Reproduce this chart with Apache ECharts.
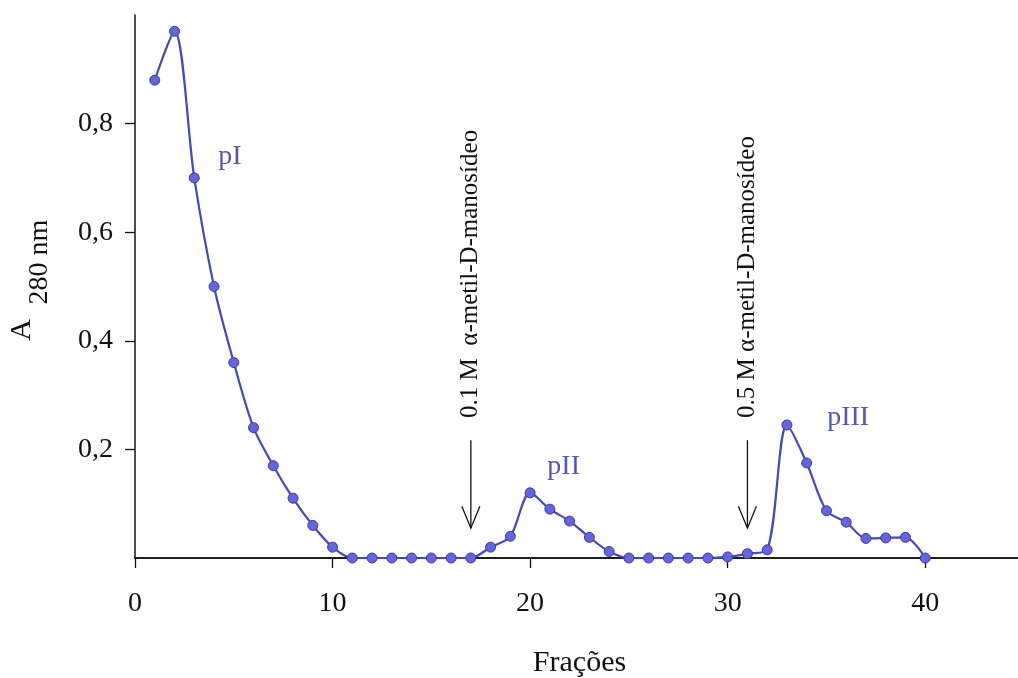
<!DOCTYPE html>
<html>
<head>
<meta charset="utf-8">
<title>Frações – A 280 nm</title>
<script src="https://cdn.jsdelivr.net/npm/echarts@6/dist/echarts.min.js"></script>
<style>
  html, body { margin: 0; padding: 0; background: #fff; }
  #chart { width: 1018px; height: 678px; }
</style>
</head>
<body>
<div id="chart"></div>
<script>
// Elution profile: absorbance at 280 nm for each collected fraction
const fractions = [1, 2, 3, 4, 5, 6, 7, 8, 9, 10,
                   11, 12, 13, 14, 15, 16, 17, 18, 19, 20,
                   21, 22, 23, 24, 25, 26, 27, 28, 29, 30,
                   31, 32, 33, 34, 35, 36, 37, 38, 39, 40];
const absorbance = [0.88, 0.97, 0.70, 0.50, 0.36, 0.24, 0.17, 0.11, 0.06, 0.02,
                    0, 0, 0, 0, 0, 0, 0, 0.02, 0.04, 0.12,
                    0.09, 0.068, 0.038, 0.012, 0, 0, 0, 0, 0, 0.002,
                    0.008, 0.015, 0.245, 0.175, 0.087, 0.066, 0.036, 0.037, 0.038, 0];

// Fractions at which the eluent was changed, and the eluent used
const elutionFractions = [17, 31];
const elutionLabels = ['0.1 M  \u03b1-metil-D-manos\u00eddeo', '0.5 M \u03b1-metil-D-manos\u00eddeo'];

// Peak names
const peakNames = ['pI', 'pII', 'pIII'];

// Axis ticks
const xTicks = [0, 10, 20, 30, 40];
const yTicks = [0.2, 0.4, 0.6, 0.8];

const serif = '"Liberation Serif", "Times New Roman", serif';
const lineColor = '#4646c4';
const labelColor = '#5656b4';

const chart = echarts.init(document.getElementById('chart'), null, { renderer: 'canvas' });

const option = {
  backgroundColor: '#ffffff',
  animation: false,
  grid: { left: 135, top: 15, width: 889, height: 543, containLabel: false, outerBoundsMode: 'none' },
  xAxis: [{
    type: 'value',
    min: 0, max: 45, interval: 10,
    name: 'Frações',
    nameLocation: 'middle',
    nameGap: 90,
    nameTextStyle: { fontFamily: serif, fontSize: 30, color: '#111' },
    axisLine: { show: true, onZero: false, lineStyle: { color: '#111', width: 1.5 } },
    axisTick: { show: true, inside: false, length: 10, lineStyle: { color: '#111', width: 1.3 } },
    axisLabel: {
      fontFamily: serif, fontSize: 28, color: '#111', margin: 32,
      showMaxLabel: false,
      formatter: v => (xTicks.indexOf(v) >= 0 ? String(v) : '')
    },
    splitLine: { show: false }
  }, {
    type: 'value',
    position: 'top',
    min: 0, max: 45,
    axisLine: { show: true, lineStyle: { color: '#111', width: 1.5 } },
    axisTick: { show: false },
    axisLabel: { show: false },
    splitLine: { show: false }
  }],
  yAxis: {
    type: 'value',
    min: 0, max: 1.0, interval: 0.2,
    axisLine: { show: true, onZero: false, lineStyle: { color: '#111', width: 1.5 } },
    axisTick: { show: true, inside: false, length: 10, lineStyle: { color: '#111', width: 1.3 } },
    axisLabel: {
      fontFamily: serif, fontSize: 28, color: '#111', margin: 22,
      showMinLabel: false, showMaxLabel: false,
      formatter: v => {
        const t = yTicks.find(k => Math.abs(k - v) < 1e-9);
        return t === undefined ? '' : t.toFixed(1).replace('.', ',');
      }
    },
    splitLine: { show: false }
  },
  graphic: [
    {
      type: 'text', x: 22, y: 330, rotation: Math.PI / 2,
      style: { text: 'A', fontFamily: serif, fontSize: 30, fill: '#111', align: 'center', verticalAlign: 'middle' }
    },
    {
      type: 'text', x: 40, y: 262, rotation: Math.PI / 2,
      style: { text: '280 nm', fontFamily: serif, fontSize: 28, fill: '#111', align: 'center', verticalAlign: 'middle' }
    }
  ],
  series: [
    {
      type: 'line',
      data: fractions.map((f, i) => [f, absorbance[i]]),
      smooth: 0.3,
      symbol: 'circle',
      symbolSize: 10,
      lineStyle: { color: lineColor, width: 2.2 },
      itemStyle: { color: '#6464dc', borderColor: '#3a3aa6', borderWidth: 1 },
      z: 3
    },
    {
      // eluent change arrows with vertical captions
      type: 'custom',
      data: elutionFractions.map(f => [f, 0]),
      renderItem: (params, api) => {
        const x = api.value(0);
        const top = api.coord([x, 0.217]);
        const tip = api.coord([x, 0.055]);
        const base = api.coord([x, 0.258]);
        return {
          type: 'group',
          children: [
            { type: 'line', shape: { x1: top[0], y1: top[1], x2: tip[0], y2: tip[1] },
              style: { stroke: '#111', lineWidth: 1.3 } },
            { type: 'polyline',
              shape: { points: [[tip[0] - 9, tip[1] - 22], [tip[0], tip[1]], [tip[0] + 9, tip[1] - 22]] },
              style: { stroke: '#111', lineWidth: 1.3, fill: null } },
            { type: 'text', x: base[0], y: base[1], rotation: Math.PI / 2,
              style: { text: elutionLabels[params.dataIndex], fontFamily: serif, fontSize: 25,
                       fill: '#111', align: 'left', verticalAlign: 'middle' } }
          ]
        };
      },
      z: 2
    },
    {
      // peak names
      type: 'custom',
      data: [[4.8, 0.74], [21.7, 0.169], [36.1, 0.259]],
      renderItem: (params, api) => {
        const p = api.coord([api.value(0), api.value(1)]);
        return {
          type: 'text', x: p[0], y: p[1],
          style: { text: peakNames[params.dataIndex], fontFamily: serif, fontSize: 28,
                   fill: labelColor, align: 'center', verticalAlign: 'middle' }
        };
      },
      z: 2
    }
  ]
};

chart.setOption(option);
</script>
</body>
</html>
